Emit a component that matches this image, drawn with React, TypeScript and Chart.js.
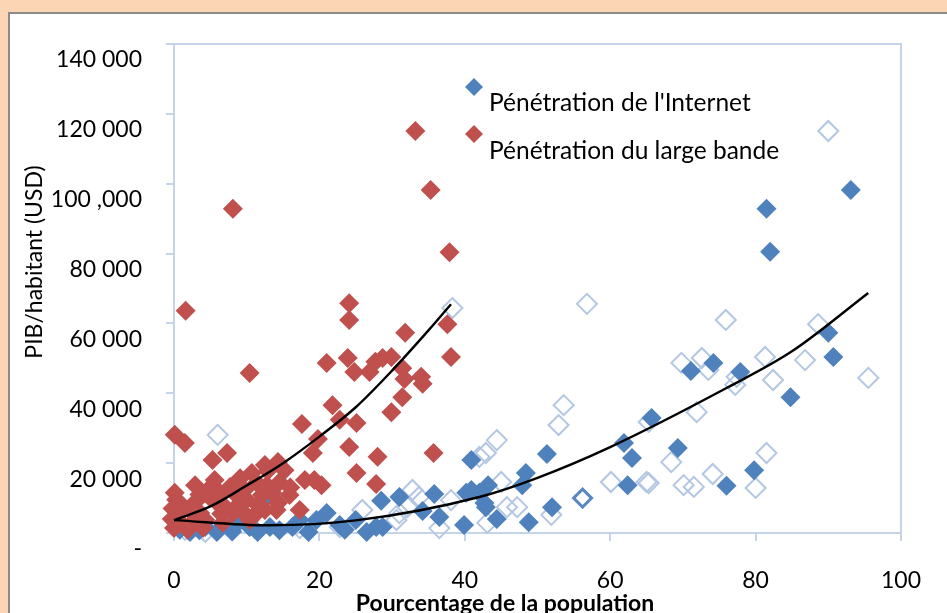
import { useEffect, useRef } from "react";
import { Chart, registerables } from "chart.js";
Chart.register(...registerables);

// ---- data (x: % of population, y: GDP per capita USD) ----
const broadbandPoints: [number, number][] = [
  [33.2, 115100], [35.3, 98200], [37.9, 80400], [8.1, 92800], [24.1, 65800], [24.1, 61000],
  [1.6, 63600], [10.4, 45800], [21.0, 48700], [23.9, 50100], [24.8, 46100], [26.9, 46100],
  [27.7, 49000], [28.7, 50100], [29.9, 50400], [31.8, 57300], [37.6, 59800], [38.1, 50400],
  [31.4, 47200], [31.7, 44100], [34.0, 44700], [34.2, 42700], [31.4, 38900], [29.9, 34600],
  [21.8, 36600], [22.8, 32400], [25.1, 31500], [17.6, 31200], [19.8, 26900], [19.1, 22900],
  [24.1, 24600], [28.0, 21800], [25.1, 17200], [27.8, 14000], [35.7, 22900], [18.0, 15200],
  [19.3, 15200], [20.3, 13700], [17.3, 6600], [0.1, 28100], [1.5, 25800], [5.3, 20900],
  [7.3, 22900], [14.3, 20300], [12.9, 17800], [10.7, 17200], [11.4, 14300], [12.8, 13700],
  [14.3, 8600], [14.1, 6600], [7.7, 13200], [6.3, 11500], [4.9, 10300], [0.1, 11500],
  [0.8, 8600], [9.1, 8600], [8.1, 5700], [3.6, 5700], [6.7, 2900], [1.2, 2300], [0.0, 1400],
  [2.2, 6600], [4.3, 3700], [9.7, 12300], [12.1, 10900], [15.9, 10900], [2.9, 13700],
  [5.6, 15200], [9.1, 15700], [12.5, 19500], [15.2, 18000], [0.5, 5200], [1.9, 900],
  [10.4, 3700], [12.5, 6600], [-0.3, 4000], [3.0, 9000], [7.0, 7500], [11.0, 5000],
  [1.0, 6000], [2.5, 3000], [3.5, 11000], [5.0, 13000], [6.0, 8500], [8.5, 11000],
  [10.0, 9500], [11.5, 8000], [13.5, 11500], [14.5, 14500], [16.0, 13000], [0.3, 9500],
  [-0.2, 7000], [4.0, 1500], [6.5, 5500], [9.5, 6000],
];

const internetPoints: [number, number][] = [
  [93.1, 98200], [81.5, 92800], [82.0, 80500], [90.0, 57300], [90.7, 50400], [71.1, 46400],
  [74.2, 48700], [77.9, 46100], [84.8, 38900], [65.7, 32900], [69.3, 24300], [79.8, 18000],
  [76.0, 13500], [61.9, 25800], [63.0, 21500], [62.4, 13700], [51.3, 22600], [48.4, 17200],
  [47.9, 13700], [43.2, 13700], [42.7, 8600], [44.4, 4000], [52.0, 7400], [48.8, 3100],
  [40.9, 20900], [40.2, 11500], [42.0, 11500], [42.9, 7400], [39.9, 2300], [36.5, 4600],
  [35.8, 11200], [34.2, 6300], [31.0, 10300], [28.5, 9200], [28.7, 1700], [21.0, 5700],
  [25.0, 3700], [27.8, 1700], [19.6, 3700], [16.3, 1700], [12.2, 9400], [13.2, 1700],
  [10.4, 1700], [5.9, 300], [2.2, 300], [7.7, 1700], [9.1, 3700], [4.3, 1700], [17.3, 3700],
  [22.8, 2300], [0.8, 900], [40.9, 12300], [3.5, 800], [8.0, 400], [11.5, 300], [14.5, 800],
  [18.5, 300], [23.5, 900], [26.5, 300],
];

const outlinePoints: [number, number][] = [
  [90.0, 115100], [56.8, 65600], [75.9, 61000], [88.6, 59800], [69.8, 48700], [72.6, 50100],
  [73.5, 46700], [77.4, 44700], [77.2, 42400], [81.3, 50400], [82.4, 43800], [86.8, 49500],
  [95.5, 44400], [71.9, 34600], [68.4, 20300], [65.3, 14300], [70.1, 13700], [71.5, 13200],
  [74.1, 16900], [80.0, 12900], [81.5, 22900], [53.6, 36600], [52.9, 30900], [44.4, 26600],
  [42.9, 22900], [45.0, 14600], [45.8, 7400], [47.2, 7400], [51.9, 5200], [60.1, 14600],
  [65.0, 14600], [65.3, 31800], [38.3, 64400], [32.8, 12300], [33.7, 10300], [25.9, 6600],
  [31.0, 5700], [38.1, 9400], [42.0, 21800], [32.1, 7400], [30.6, 3700], [43.1, 2900],
  [6.0, 28100], [1.5, 900], [4.3, 300], [8.4, 2300], [17.3, 1400], [22.8, 1700], [36.5, 1400],
];

const outlineStrongPoints: [number, number][] = [[56.2, 10000]];

const broadbandTrendX = [0, 5, 10, 15, 20, 25, 30, 35, 38.1];
const broadbandTrendY = [3700, 7600, 13600, 20000, 27600, 36000, 46500, 58000, 65500];
const internetTrendX = [0, 13, 25, 42, 50, 60, 76, 85, 95.5];
const internetTrendY = [3700, 2200, 3600, 10300, 15800, 24600, 41500, 52000, 68700];

const xTicks = [0, 20, 40, 60, 80, 100];
const yTickLabels = ["-", "20 000", "40 000", "60 000", "80 000", "100 ,000", "120 000", "140 000"];

const legendLabels = ["Pénétration de l'Internet", "Pénétration du large bande"];
const xTitle = "Pourcentage de la population";
const yTitle = "PIB/habitant (USD)";

const BLUE = "#4F81BD";
const RED = "#C0504D";
const OUTLINE = "#B3C7E3";
const AXIS = "#C5D4E8";
const FONT = "Lato, 'Open Sans', sans-serif";

const toXY = (pts: [number, number][]) => pts.map(([x, y]) => ({ x, y }));
const zipXY = (xs: number[], ys: number[]) => xs.map((x, i) => ({ x, y: ys[i] }));

function diamond(ctx: CanvasRenderingContext2D, x: number, y: number, r: number) {
  ctx.beginPath();
  ctx.moveTo(x - r, y);
  ctx.lineTo(x, y - r);
  ctx.lineTo(x + r, y);
  ctx.lineTo(x, y + r);
  ctx.closePath();
}

const decorPlugin = {
  id: "decor",
  beforeDraw(chart: any) {
    const { ctx, width, height } = chart;
    ctx.save();
    ctx.fillStyle = "#FCD5B5";
    ctx.fillRect(0, 0, width, height);
    ctx.fillStyle = "#FFFFFF";
    ctx.fillRect(10, 14, width - 10, height - 14);
    ctx.strokeStyle = "#8C8C8C";
    ctx.lineWidth = 2;
    ctx.beginPath();
    ctx.moveTo(9, height);
    ctx.lineTo(9, 13);
    ctx.lineTo(width, 13);
    ctx.stroke();
    ctx.restore();
  },
  beforeDatasetsDraw(chart: any) {
    const { ctx, chartArea } = chart;
    ctx.save();
    ctx.strokeStyle = AXIS;
    ctx.lineWidth = 2;
    ctx.beginPath();
    ctx.moveTo(chartArea.left, chartArea.top);
    ctx.lineTo(chartArea.right, chartArea.top);
    ctx.lineTo(chartArea.right, chartArea.bottom);
    ctx.stroke();
    ctx.restore();
  },
  afterDraw(chart: any) {
    const { ctx } = chart;
    ctx.save();
    ctx.fillStyle = "#000";
    ctx.textBaseline = "middle";
    ctx.textAlign = "left";
    ctx.font = `24.5px ${FONT}`;
    ctx.fillText(legendLabels[0], 489, 103);
    ctx.fillText(legendLabels[1], 489, 151);
    ctx.fillStyle = BLUE;
    diamond(ctx, 474, 87, 9);
    ctx.fill();
    ctx.fillStyle = RED;
    diamond(ctx, 474, 134, 9);
    ctx.fill();
    // axis titles
    ctx.fillStyle = "#000";
    ctx.textAlign = "center";
    ctx.font = `bold 23px ${FONT}`;
    ctx.fillText(xTitle, 505, 604);
    ctx.font = `23px ${FONT}`;
    ctx.translate(35, 262);
    ctx.rotate(-Math.PI / 2);
    ctx.fillText(yTitle, 0, 0);
    ctx.restore();
  },
};

export default function App() {
  const ref = useRef<HTMLCanvasElement>(null);
  useEffect(() => {
    document.body.style.margin = "0";
    const canvas = ref.current!;
    const chart = new Chart(canvas, {
      type: "scatter",
      data: {
        datasets: [
          {
            label: "trend-bb",
            data: zipXY(broadbandTrendX, broadbandTrendY),
            showLine: true,
            borderColor: "#000",
            borderWidth: 2.4,
            pointRadius: 0,
            cubicInterpolationMode: "monotone",
            clip: false,
            order: 0,
          } as any,
          {
            label: "trend-int",
            data: zipXY(internetTrendX, internetTrendY),
            showLine: true,
            borderColor: "#000",
            borderWidth: 2.4,
            pointRadius: 0,
            cubicInterpolationMode: "monotone",
            clip: false,
            order: 0,
          } as any,
          {
            label: legendLabels[1],
            data: toXY(broadbandPoints),
            pointStyle: "rectRot",
            pointRadius: 10,
            backgroundColor: RED,
            borderColor: RED,
            borderWidth: 0,
            clip: false,
            order: 1,
          } as any,
          {
            label: legendLabels[0],
            data: toXY(internetPoints),
            pointStyle: "rectRot",
            pointRadius: 10,
            backgroundColor: BLUE,
            borderColor: BLUE,
            borderWidth: 0,
            clip: false,
            order: 2,
          } as any,
          {
            label: "outline-strong",
            data: toXY(outlineStrongPoints),
            pointStyle: "rectRot",
            pointRadius: 9,
            backgroundColor: "rgba(255,255,255,0)",
            borderColor: "#5A87C2",
            borderWidth: 3,
            clip: false,
            order: 3,
          } as any,
          {
            label: "outline",
            data: toXY(outlinePoints),
            pointStyle: "rectRot",
            pointRadius: 10,
            backgroundColor: "rgba(255,255,255,0)",
            borderColor: OUTLINE,
            borderWidth: 2,
            clip: false,
            order: 4,
          } as any,
        ],
      },
      options: {
        animation: false,
        responsive: false,
        maintainAspectRatio: false,
        layout: { padding: { top: 44, right: 45, left: 0, bottom: 0 } },
        plugins: { legend: { display: false }, tooltip: { enabled: false }, title: { display: false } },
        scales: {
          x: {
            type: "linear",
            min: 0,
            max: 100,
            afterFit: (s: any) => { s.height = 80; },
            afterBuildTicks: (s: any) => { s.ticks = xTicks.map((v) => ({ value: v })); },
            grid: { drawOnChartArea: false, drawTicks: true, tickLength: 8, color: AXIS, lineWidth: 2 },
            border: { display: true, color: AXIS, width: 2 },
            ticks: { color: "#000", font: { family: FONT, size: 23 }, padding: 26 },
          },
          y: {
            type: "linear",
            min: 0,
            max: 140000,
            afterFit: (s: any) => { s.width = 174; },
            grid: { drawOnChartArea: false, drawTicks: true, tickLength: 8, color: AXIS, lineWidth: 2 },
            border: { display: true, color: AXIS, width: 2 },
            ticks: {
              stepSize: 20000,
              color: "#000",
              font: { family: FONT, size: 23 },
              padding: 24,
              labelOffset: 16,
              callback: (_v: any, i: number) => yTickLabels[i],
            },
          },
        },
      },
      plugins: [decorPlugin],
    });
    if ((document as any).fonts?.ready) {
      (document as any).fonts.ready.then(() => chart.update());
    }
    return () => chart.destroy();
  }, []);
  return (
    <canvas ref={ref} width={947} height={613} style={{ display: "block", width: 947, height: 613 }} />
  );
}
